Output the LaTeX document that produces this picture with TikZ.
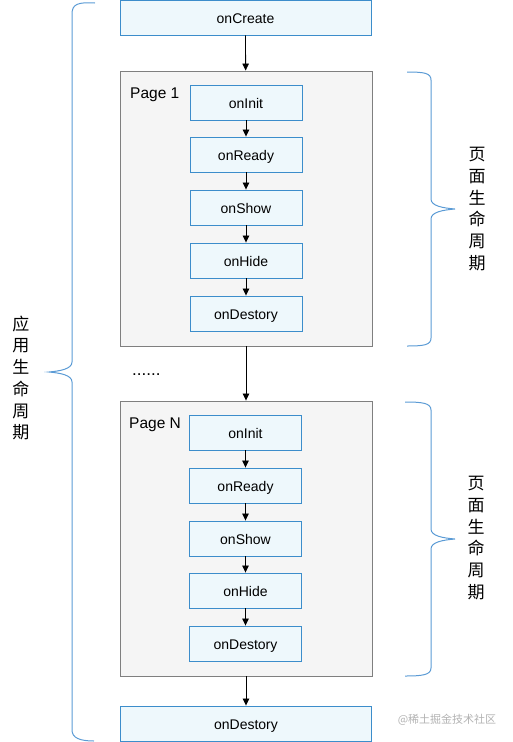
\documentclass[tikz,border=0pt]{standalone}
\usepackage{fontspec}
\setmainfont{Liberation Sans}
\newfontfamily\cjk{Noto Sans CJK SC}
\usetikzlibrary{arrows.meta}
\definecolor{hookblue}{HTML}{3C8DCB}
\definecolor{hookfill}{HTML}{EEF8FC}
\definecolor{pagegray}{HTML}{7F7F7F}
\definecolor{pagefill}{HTML}{F5F5F5}
\definecolor{braceblue}{HTML}{5B9BD5}

\begin{document}
\begin{tikzpicture}[x=1pt,y=-1pt,
    hook/.style={draw=hookblue,fill=hookfill,line width=0.9pt,minimum width=112pt,minimum height=35pt,inner sep=0pt,text height=12pt,text depth=0pt,font=\fontsize{14}{16}\selectfont},
    wide/.style={hook,minimum width=251pt},
    page/.style={draw=pagegray,fill=pagefill,line width=0.9pt,inner sep=0pt,minimum width=252pt,minimum height=275pt},
    flow/.style={-{Triangle[length=7pt,width=6.5pt]},line width=0.8pt},
    brace/.style={draw=braceblue,line width=1pt},
    vtext/.style={font=\cjk\fontsize{17}{21.7}\selectfont,align=center,inner sep=0pt}]
    \useasboundingbox (0,0) rectangle (512,742);

    \node[wide] (create) at (245.5,17.5) {onCreate};

    \node[page] (page1) at (246,208.5) {};
    \node[anchor=base west,inner sep=0pt,font=\fontsize{15.5}{17}\selectfont] (label1) at (130,98) {Page 1};
    \node[hook] (init1)    at (246,102.5) {onInit};
    \node[hook] (ready1)   at (246,154.5) {onReady};
    \node[hook] (show1)    at (246,207.5) {onShow};
    \node[hook] (hide1)    at (246,260.5) {onHide};
    \node[hook] (destroy1) at (246,313.5) {onDestory};

    \node[anchor=base west,inner sep=0pt,font=\fontsize{17}{19}\selectfont] (dots) at (132,375.5) {......};

    \node[page] (pageN) at (246,538.5) {};
    \node[anchor=base west,inner sep=0pt,font=\fontsize{15.5}{17}\selectfont] (labelN) at (129,428) {Page N};
    \node[hook] (initN)    at (245.5,432.5) {onInit};
    \node[hook] (readyN)   at (245.5,485.5) {onReady};
    \node[hook] (showN)    at (245.5,538.5) {onShow};
    \node[hook] (hideN)    at (245.5,590.5) {onHide};
    \node[hook] (destroyN) at (245.5,643.5) {onDestory};

    \node[wide] (destroy) at (246,723.5) {onDestory};

    \draw[flow] (create) -- (page1);
    \draw[flow] (init1) -- (ready1);
    \draw[flow] (ready1) -- (show1);
    \draw[flow] (show1) -- (hide1);
    \draw[flow] (hide1) -- (destroy1);
    \draw[flow] (page1) -- (pageN);
    \draw[flow] (initN) -- (readyN);
    \draw[flow] (readyN) -- (showN);
    \draw[flow] (showN) -- (hideN);
    \draw[flow] (hideN) -- (destroyN);
    \draw[flow] (pageN) -- (destroy);

    % braces
    \draw[brace] (95,3) .. controls (78,2) and (72,4) .. (72,14) -- (72,362)
        .. controls (72,369) and (60,371) .. (49,372)
        .. controls (60,373) and (72,375) .. (72,382) -- (72,730)
        .. controls (72,738) and (80,741) .. (94,741);
    \draw[brace] (407,72) .. controls (424,72) and (431,73) .. (431,80) -- (431,199)
        .. controls (431,206) and (443,208) .. (455,209)
        .. controls (443,210) and (431,212) .. (431,219) -- (431,338)
        .. controls (431,345) and (424,346) .. (407,346);
    \draw[brace] (405,402) .. controls (422,402) and (431,403) .. (431,410) -- (431,529)
        .. controls (431,536) and (443,538) .. (455,539)
        .. controls (443,540) and (431,542) .. (431,549) -- (431,668)
        .. controls (431,675) and (422,676) .. (405,676);

    \node[vtext] (app)   at (21,378)  {应\\用\\生\\命\\周\\期};
    \node[vtext] (life1) at (477,209) {页\\面\\生\\命\\周\\期};
    \node[vtext] (lifeN) at (476,538) {页\\面\\生\\命\\周\\期};

    \node[font=\cjk\fontsize{11}{13}\selectfont,text=gray!60] (mark) at (447,720) {@稀土掘金技术社区};
\end{tikzpicture}
\end{document}
